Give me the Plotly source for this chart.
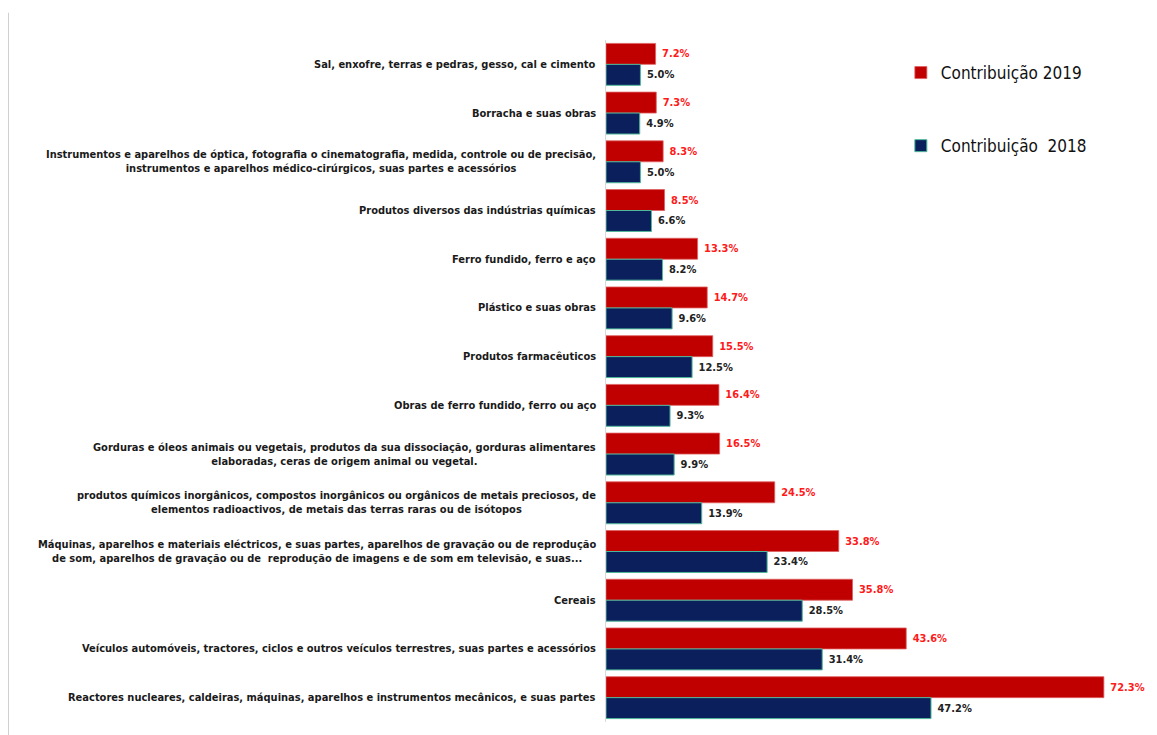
import plotly.graph_objects as go

categories = [
    "Sal, enxofre, terras e pedras, gesso, cal e cimento",
    "Borracha e suas obras",
    "Instrumentos e aparelhos de óptica, fotografia o cinematografia, medida, controle ou de precisão,<br>instrumentos e aparelhos médico-cirúrgicos, suas partes e acessórios",
    "Produtos diversos das indústrias químicas",
    "Ferro fundido, ferro e aço",
    "Plástico e suas obras",
    "Produtos farmacêuticos",
    "Obras de ferro fundido, ferro ou aço",
    "Gorduras e óleos animais ou vegetais, produtos da sua dissociação, gorduras alimentares<br>elaboradas, ceras de origem animal ou vegetal.",
    "produtos químicos inorgânicos, compostos inorgânicos ou orgânicos de metais preciosos, de<br>elementos radioactivos, de metais das terras raras ou de isótopos",
    "Máquinas, aparelhos e materiais eléctricos, e suas partes, aparelhos de gravação ou de reprodução<br>de som, aparelhos de gravação ou de  reprodução de imagens e de som em televisão, e suas...",
    "Cereais",
    "Veículos automóveis, tractores, ciclos e outros veículos terrestres, suas partes e acessórios",
    "Reactores nucleares, caldeiras, máquinas, aparelhos e instrumentos mecânicos, e suas partes",
]
contrib_2019 = [7.2, 7.3, 8.3, 8.5, 13.3, 14.7, 15.5, 16.4, 16.5, 24.5, 33.8, 35.8, 43.6, 72.3]
contrib_2018 = [5.0, 4.9, 5.0, 6.6, 8.2, 9.6, 12.5, 9.3, 9.9, 13.9, 23.4, 28.5, 31.4, 47.2]

FONT = "DejaVu Sans Condensed, Liberation Sans Narrow, sans-serif"

fig = go.Figure()
fig.add_trace(go.Bar(
    name="Contribuição 2019", y=categories, x=contrib_2019, orientation="h",
    marker=dict(color="#C00000", line=dict(color="#E06060", width=0.8)),
    text=[f" {v:.1f}%" for v in contrib_2019], textposition="outside",
    textfont=dict(family=FONT, size=11, color="#FF1A1A", weight="bold"),
    cliponaxis=False, legendgroup="a",
))
fig.add_trace(go.Bar(
    name="Contribuição  2018", y=categories, x=contrib_2018, orientation="h",
    marker=dict(color="#0B1F5C", line=dict(color="#4FB89A", width=1)),
    text=[f" {v:.1f}%" for v in contrib_2018], textposition="outside",
    textfont=dict(family=FONT, size=11, color="#222222", weight="bold"),
    cliponaxis=False, legendgroup="b",
))

for c in categories:
    fig.add_annotation(
        x=0, xref="paper", y=c, yref="y", text=c, showarrow=False,
        xanchor="right", yanchor="middle", align="center", xshift=-8,
        font=dict(family=FONT, size=11, color="#1a1a1a", weight="bold"),
    )

fig.add_shape(type="line", xref="paper", yref="paper",
              x0=(8 - 606) / 544, x1=(8 - 606) / 544, y0=-0.02, y1=1.04,
              line=dict(color="#d0d0d0", width=2))

fig.update_layout(
    width=1149, height=727,
    margin=dict(l=598, r=7, t=32, b=13),
    paper_bgcolor="white", plot_bgcolor="white",
    barmode="group", bargap=0.14, bargroupgap=0,
    xaxis=dict(range=[0, 79], showgrid=False, zeroline=False, showticklabels=False,
               showline=False, ticks=""),
    yaxis=dict(categoryorder="array", categoryarray=categories, autorange="reversed",
               showticklabels=False, showline=True, linecolor="#d9d9d9", linewidth=1,
               ticks="", showgrid=False),
    legend=dict(x=0.542, y=0.978, xanchor="left", yanchor="top",
                font=dict(family=FONT, size=17, color="#111111"),
                traceorder="grouped", tracegroupgap=48, itemwidth=30,
                bgcolor="rgba(0,0,0,0)"),
    font=dict(family=FONT),
)

fig.write_html("out.html")
